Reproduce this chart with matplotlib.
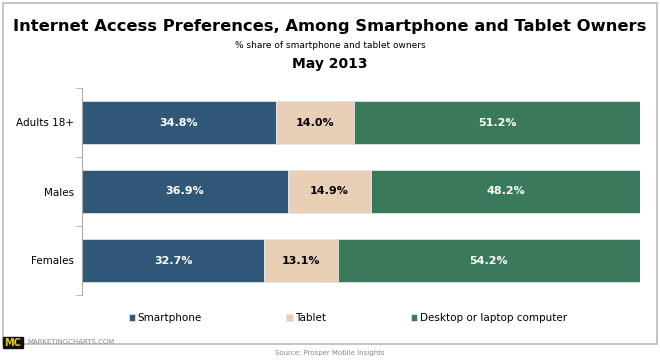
import matplotlib.pyplot as plt
import numpy as np
from matplotlib.patches import Rectangle

groups = ['Adults 18+', 'Males', 'Females']
smartphone = [34.8, 36.9, 32.7]
tablet = [14.0, 14.9, 13.1]
desktop = [51.2, 48.2, 54.2]
series_names = ['Smartphone', 'Tablet', 'Desktop or laptop computer']
colors = ['#2e5778', '#e8cfb6', '#3a7a5b']
text_colors = ['white', 'black', 'white']

W, H = 660, 360
fig = plt.figure(figsize=(6.6, 3.6), dpi=100)
fig.patch.set_facecolor('white')

# outer frame
fig.patches.append(Rectangle((3 / W, 1 - 344 / H), 654 / W, 341 / H,
                             transform=fig.transFigure, fill=False,
                             edgecolor='#bbbbbb', lw=1.2))

ax = fig.add_axes([82 / W, 1 - 295 / H, 558 / W, 207 / H])
y = np.arange(len(groups))
left = np.zeros(len(groups))
for vals, name, c, tc in zip([smartphone, tablet, desktop], series_names, colors, text_colors):
    ax.barh(y, vals, left=left, height=0.62, color=c, edgecolor='#dfe6ec', lw=0.6, label=name)
    for yi, v, l in zip(y, vals, left):
        ax.text(l + v / 2, yi, f'{v:.1f}%', ha='center', va='center',
                color=tc, fontsize=8, fontweight='bold')
    left += np.array(vals)

ax.set_xlim(0, 100)
ax.set_ylim(2.5, -0.5)
ax.set_yticks(y)
ax.set_yticklabels(groups, fontsize=7.5)
ax.set_yticks([-0.5, 0.5, 1.5, 2.5], minor=True)
ax.tick_params(axis='y', which='major', length=0, pad=6)
ax.tick_params(axis='y', which='minor', length=4, color='#aaaaaa')
ax.set_xticks([])
for s in ['top', 'right', 'bottom']:
    ax.spines[s].set_visible(False)
ax.spines['left'].set_color('#aaaaaa')

fig.text(0.5, 1 - 27 / H, 'Internet Access Preferences, Among Smartphone and Tablet Owners',
         ha='center', va='center', fontsize=11.8, fontweight='bold')
fig.text(0.5, 1 - 45 / H, '% share of smartphone and tablet owners',
         ha='center', va='center', fontsize=6.5)
fig.text(0.5, 1 - 64 / H, 'May 2013', ha='center', va='center',
         fontsize=10, fontweight='bold')

fig.legend(loc='center left', bbox_to_anchor=(129 / W, 1 - 318 / H), ncol=3, frameon=False,
           fontsize=7.5, handlelength=0.6, handleheight=0.6, columnspacing=8.1,
           handletextpad=0.25, borderpad=0, borderaxespad=0)

# MC logo
fig.patches.append(Rectangle((3 / W, 1 - 348 / H), 20 / W, 11 / H,
                             transform=fig.transFigure, color='#111111'))
fig.text(13 / W, 1 - 342.5 / H, 'MC', ha='center', va='center', color='#e8c21a',
         fontsize=7, fontweight='bold')
fig.text(27 / W, 1 - 342 / H, 'MARKETINGCHARTS.COM', ha='left', va='center',
         color='#888888', fontsize=5)
fig.text(0.5, 1 - 353 / H, 'Source: Prosper Mobile Insights', ha='center', va='center',
         color='#888888', fontsize=5)

fig.savefig('out.png', dpi=100)
